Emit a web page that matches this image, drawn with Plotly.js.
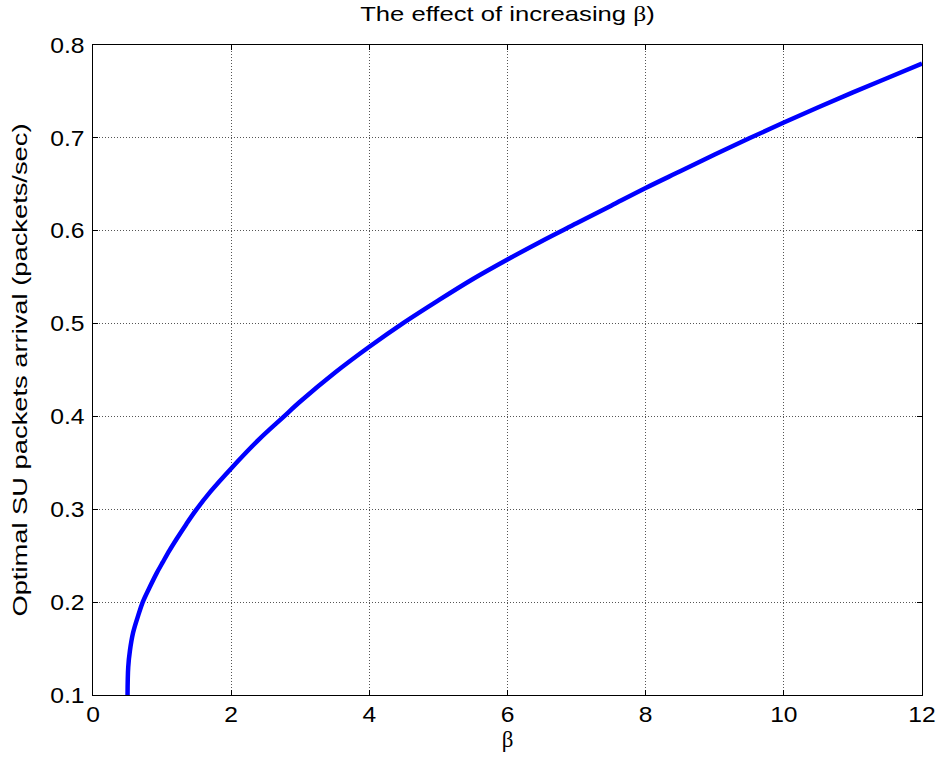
<!DOCTYPE html>
<html>
<head>
<meta charset="utf-8">
<script src="https://cdn.plot.ly/plotly-3.0.1.min.js"></script>
<style>html,body{margin:0;padding:0;background:#fff;}</style>
</head>
<body>
<div id="chart" style="width:939px;height:769px;"></div>
<script>
const beta = [0.5, 0.51, 0.535, 0.58, 0.656, 0.72, 0.82, 0.92, 1.01, 1.11, 1.21, 1.35, 1.48, 1.7, 2.0, 2.4, 2.75, 3.0, 3.5, 4.0, 4.5, 5.0, 5.5, 6.0, 6.5, 7.0, 7.5, 8.0, 8.5, 9.0, 9.5, 10.0, 10.5, 11.0, 11.5, 12.0];
const arrival = [0.1, 0.13, 0.148, 0.167, 0.186, 0.2, 0.216, 0.231, 0.243, 0.256, 0.268, 0.284, 0.298, 0.319, 0.344, 0.375, 0.399, 0.416, 0.447, 0.475, 0.501, 0.525, 0.548, 0.569, 0.589, 0.608, 0.627, 0.646, 0.664, 0.682, 0.6995, 0.7165, 0.733, 0.749, 0.7645, 0.78];
const xTicks = [0, 2, 4, 6, 8, 10, 12];
const yTicks = [0.1, 0.2, 0.3, 0.4, 0.5, 0.6, 0.7, 0.8];
const titleText = 'The effect of increasing <span style="font-family:Liberation Serif, serif">β</span>)';
const yTitleText = 'Optimal SU packets arrival (packets/sec)';
const xTitleText = 'β';

const sans = 'Liberation Sans, Arial, sans-serif';
const tickFont = {family: sans, size: 22, color: '#000'};
const axisCommon = {
  showline: true, linecolor: '#000', linewidth: 1, mirror: 'ticks',
  ticks: 'inside', ticklen: 5, tickcolor: '#000', tickwidth: 1,
  showgrid: true, gridcolor: '#555', griddash: '1px,2px', gridwidth: 1,
  zeroline: false, tickfont: tickFont, automargin: false
};
Plotly.newPlot('chart', [{
  x: beta, y: arrival, type: 'scatter', mode: 'lines',
  line: {color: '#0000ff', width: 4.5, shape: 'spline', smoothing: 1}, hoverinfo: 'skip'
}], {
  width: 939, height: 769,
  margin: {l: 93, r: 17, t: 45, b: 74},
  paper_bgcolor: '#fff', plot_bgcolor: '#fff',
  showlegend: false,
  font: tickFont,
  title: {text: titleText, font: {family: sans, size: 21, color: '#000'},
          xref: 'paper', x: 0.5, xanchor: 'center', yref: 'container', y: 1 - 14/769, yanchor: 'middle'},
  xaxis: Object.assign({}, axisCommon, {range: [0, 12], tickvals: xTicks, ticktext: xTicks.map(String),
    title: {text: xTitleText, font: {family: 'Liberation Serif, serif', size: 23, color: '#000'}, standoff: 4}}),
  yaxis: Object.assign({}, axisCommon, {range: [0.1, 0.8], tickvals: yTicks, ticktext: yTicks.map(v => v.toFixed(1)),
    ticklabelstandoff: 3,
    title: {text: yTitleText, font: {family: sans, size: 21, color: '#000'}, standoff: 20}})
}, {displayModeBar: false, staticPlot: true}).then(function (gd) {
  // widen text like the reference rendering
  function stretch(sel, factor) {
    gd.querySelectorAll(sel).forEach(function (t) {
      const w = t.getComputedTextLength();
      if (w > 0) {
        t.setAttribute('textLength', (w * factor).toFixed(1));
        t.setAttribute('lengthAdjust', 'spacingAndGlyphs');
      }
    });
  }
  stretch('.xtick text, .ytick text', 1.12);
  stretch('.gtitle', 1.22);
  stretch('.ytitle', 1.3);
});
</script>
</body>
</html>
